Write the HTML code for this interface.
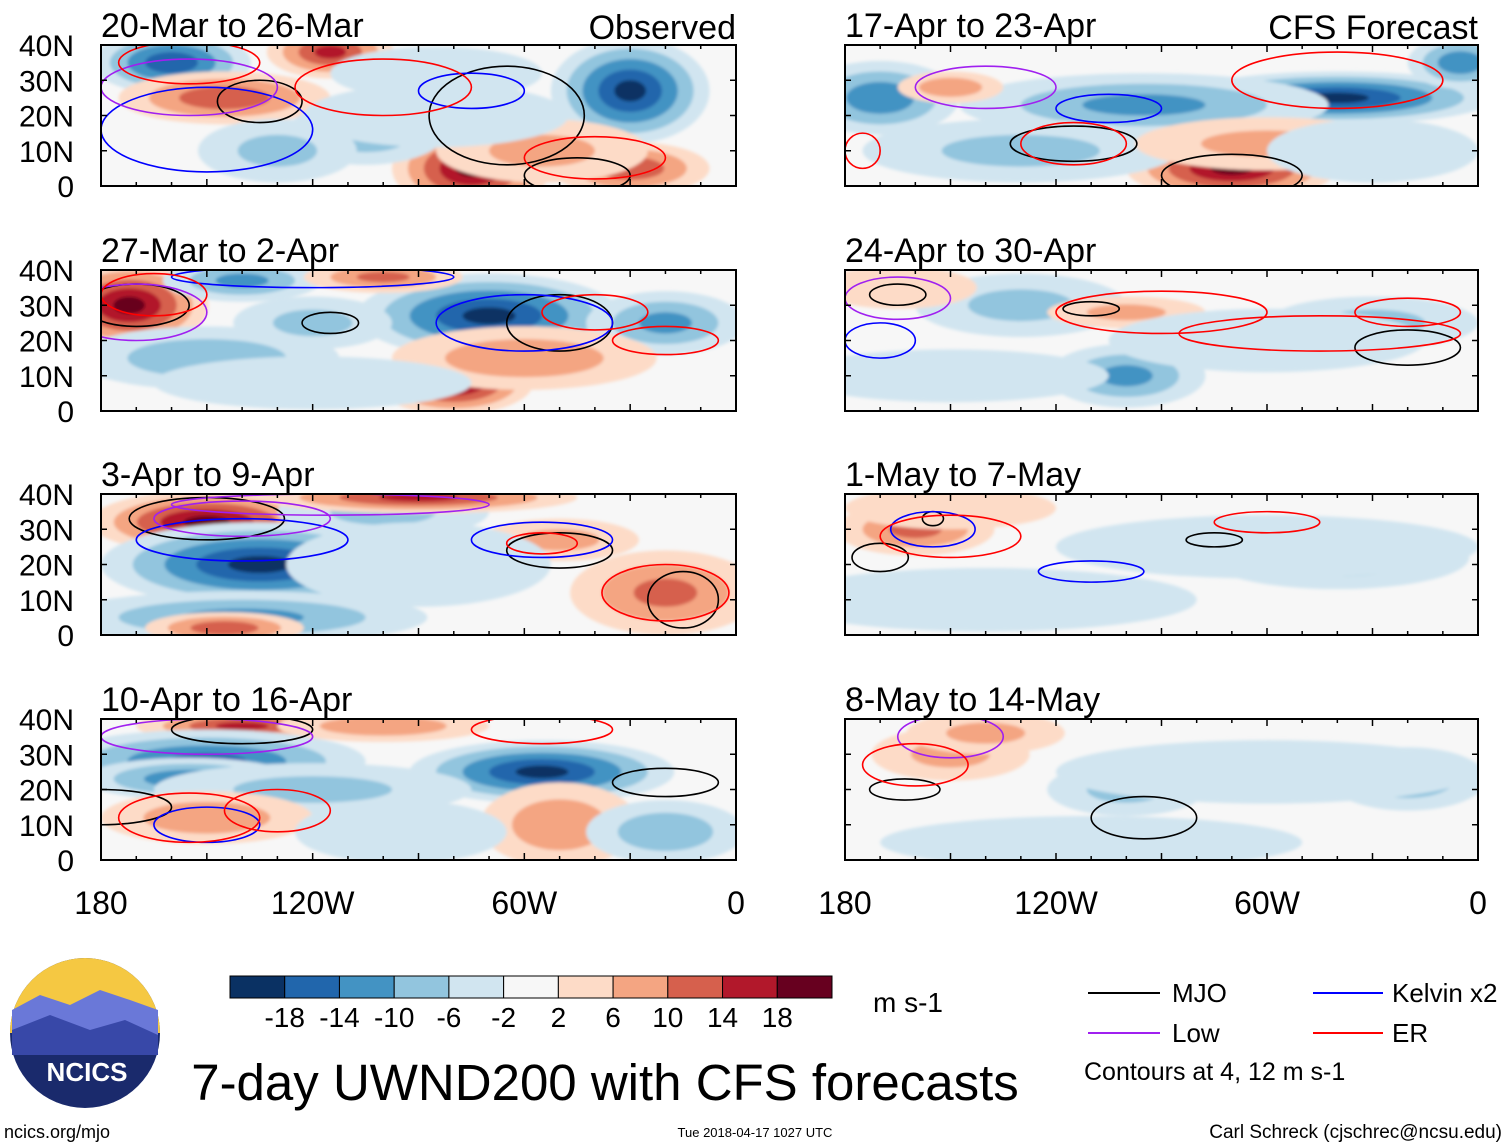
<!DOCTYPE html>
<html><head><meta charset="utf-8">
<style>
html,body{margin:0;padding:0;background:#fff;}
svg{display:block;font-family:"Liberation Sans",sans-serif;}
</style></head>
<body>
<svg id="fig" width="1510" height="1147" viewBox="0 0 1510 1147" xmlns="http://www.w3.org/2000/svg">
<defs>
<filter id="soft" x="-20%" y="-20%" width="140%" height="140%"><feGaussianBlur stdDeviation="1.5"/></filter>
<clipPath id="c0"><rect x="101" y="45" width="635" height="141"/></clipPath>
<clipPath id="c1"><rect x="101" y="270" width="635" height="141"/></clipPath>
<clipPath id="c2"><rect x="101" y="494" width="635" height="141"/></clipPath>
<clipPath id="c3"><rect x="101" y="719" width="635" height="141"/></clipPath>
<clipPath id="c4"><rect x="845" y="45" width="633" height="141"/></clipPath>
<clipPath id="c5"><rect x="845" y="270" width="633" height="141"/></clipPath>
<clipPath id="c6"><rect x="845" y="494" width="633" height="141"/></clipPath>
<clipPath id="c7"><rect x="845" y="719" width="633" height="141"/></clipPath>
</defs>
<g id="panels"></g>
<g id="bottom">
  <g>
    <circle cx="85" cy="1033" r="75" fill="#1a2a6c"/>
    <path d="M10,1033 A75,75 0 0 1 160,1033 Z" fill="#f5c842"/>
    <path d="M12,1010 L40,995 L70,1005 L100,990 L130,1000 L158,1010 L158,1045 L12,1045 Z" fill="#6a78d8"/>
    <path d="M12,1030 L50,1015 L90,1030 L125,1020 L158,1035 L158,1055 L12,1055 Z" fill="#3848a8"/>
    <text x="87" y="1081" font-size="26" font-weight="bold" fill="#fff" text-anchor="middle">NCICS</text>
  </g>
  <text x="4" y="1138" font-size="18">ncics.org/mjo</text>
  <g id="colorbar"></g>
  <text x="873" y="1012" font-size="28">m s-1</text>
  <text x="605" y="1100" font-size="51" text-anchor="middle">7-day UWND200 with CFS forecasts</text>
  <text x="755" y="1137" font-size="13" text-anchor="middle">Tue 2018-04-17 1027 UTC</text>
  <text x="1502" y="1138" font-size="19" text-anchor="end">Carl Schreck (cjschrec@ncsu.edu)</text>
  <g>
    <line x1="1088" y1="993" x2="1160" y2="993" stroke="#000" stroke-width="2"/>
    <text x="1172" y="1002" font-size="26">MJO</text>
    <line x1="1313" y1="993" x2="1383" y2="993" stroke="#0000ff" stroke-width="2"/>
    <text x="1392" y="1002" font-size="26">Kelvin x2</text>
    <line x1="1088" y1="1033" x2="1160" y2="1033" stroke="#a020f0" stroke-width="2"/>
    <text x="1172" y="1042" font-size="26">Low</text>
    <line x1="1313" y1="1033" x2="1383" y2="1033" stroke="#ff0000" stroke-width="2"/>
    <text x="1392" y="1042" font-size="26">ER</text>
    <text x="1084" y="1080" font-size="25">Contours at 4, 12 m s-1</text>
  </g>
</g>
</svg>
<script>
const NS="http://www.w3.org/2000/svg";
const colorLevels=[-18,-14,-10,-6,-2,2,6,10,14,18];
const colors=["#0a3163","#2166ac","#4393c3","#92c5de","#d1e5f0","#f7f7f7","#fddbc7","#f4a582","#d6604d","#b2182b","#67001f"];
const panelTitles=["20-Mar to 26-Mar","27-Mar to 2-Apr","3-Apr to 9-Apr","10-Apr to 16-Apr","17-Apr to 23-Apr","24-Apr to 30-Apr","1-May to 7-May","8-May to 14-May"];
const latTicks=[0,10,20,30,40];
const latLabels=["0","10N","20N","30N","40N"];
const lonTicks=[-180,-120,-60,0];
const lonLabels=["180","120W","60W","0"];
// blobs: [lon, lat, value, rxDeg, ryDeg]
const blobs0=[[-160,35,-16,15,6],[-115,38,14,12,5],[-145,25,12,20,5],[-30,27,-18,15,10],[-75,5,18,15,8],[-105,15,-8,15,6],[-130,10,-6,15,6],[-30,5,12,15,5],[-55,10,6,20,6],[-85,32,-4,20,5],[-85,20,-4,25,6]];
const blobs1=[[-172,30,18,15,8],[-70,27,-18,25,8],[-80,8,18,15,6],[-150,15,-8,25,6],[-140,37,-10,15,4],[-120,25,-6,15,5],[-20,25,-10,15,6],[-60,15,8,25,6],[-100,38,10,15,3],[-120,8,-4,30,5]];
const blobs2=[[-150,32,18,22,6],[-135,20,-18,30,8],[-140,5,-10,35,5],[-20,12,10,18,8],[-50,27,6,15,4],[-100,35,-6,20,5],[-90,39,14,30,3],[-145,2,12,15,3],[-90,20,-4,25,8]];
const blobs3=[[-140,38,14,20,3],[-150,28,-14,30,6],[-155,23,-12,20,4],[-55,25,-18,25,6],[-120,20,-6,30,5],[-50,10,8,15,8],[-20,8,-8,15,6],[-150,12,8,20,5],[-100,38,8,20,3],[-95,8,-4,20,6]];
const blobs4=[[-170,25,-12,15,7],[-40,25,-18,30,5],[-95,23,-10,35,6],[-70,5,18,20,6],[-5,35,-12,10,5],[-130,10,-6,30,6],[-150,28,8,10,3],[-60,12,6,25,5],[-30,10,-4,20,6]];
const blobs5=[[-100,10,-10,15,6],[-130,30,-6,20,6],[-100,28,6,15,3],[-30,25,-6,20,5],[-60,20,-3,30,6],[-165,35,3,15,4],[-150,10,-3,30,5]];
const blobs6=[[-160,30,10,15,5],[-40,22,-8,25,6],[-140,10,-4,40,6],[-60,25,-3,40,6],[-150,36,4,20,4]];
const blobs7=[[-150,30,6,15,5],[-100,20,-6,15,5],[-20,23,-8,15,6],[-60,25,-3,40,6],[-110,5,-3,40,5],[-140,36,6,15,4]];
const allBlobs=[blobs0,blobs1,blobs2,blobs3,blobs4,blobs5,blobs6,blobs7];
// contours: [type, lon, lat, rxDeg, ryDeg]
const cont0=[["k",-135,24,12,6],["k",-65,20,22,14],["k",-45,3,15,5],["b",-150,16,30,12],["b",-75,27,15,5],["p",-155,28,25,8],["r",-155,35,20,6],["r",-40,8,20,6],["r",-100,28,25,8]];
const cont1=[["k",-170,30,15,6],["k",-115,25,8,3],["k",-50,25,15,8],["b",-60,25,25,8],["b",-120,38,40,3],["p",-170,28,20,8],["r",-165,33,15,6],["r",-20,20,15,4],["r",-40,28,15,5]];
const cont2=[["k",-150,33,22,6],["k",-50,24,15,5],["k",-15,10,10,8],["b",-140,27,30,6],["b",-55,27,20,5],["p",-115,37,45,3],["p",-140,33,25,5],["r",-20,12,18,8],["r",-55,26,10,3]];
const cont3=[["k",-140,37,20,4],["k",-20,22,15,4],["k",-180,15,20,5],["b",-150,10,15,5],["p",-150,35,30,5],["r",-130,14,15,6],["r",-155,12,20,7],["r",-55,37,20,4]];
const cont4=[["k",-115,12,18,5],["k",-70,3,20,6],["b",-105,22,15,4],["p",-140,28,20,6],["r",-115,12,15,6],["r",-40,30,30,8],["r",-175,10,5,5]];
const cont5=[["k",-165,33,8,3],["k",-110,29,8,2],["k",-20,18,15,5],["b",-170,20,10,5],["p",-165,32,15,6],["r",-90,28,30,6],["r",-45,22,40,5],["r",-20,28,15,4]];
const cont6=[["k",-170,22,8,4],["k",-155,33,3,2],["k",-75,27,8,2],["b",-155,30,12,5],["b",-110,18,15,3],["r",-150,28,20,6],["r",-60,32,15,3]];
const cont7=[["k",-163,20,10,3],["k",-95,12,15,6],["p",-150,35,15,6],["r",-160,27,15,6]];
const allConts=[cont0,cont1,cont2,cont3,cont4,cont5,cont6,cont7];
const contColors={k:"#000",b:"#0000ff",p:"#a020f0",r:"#ff0000"};

const panelX=[101,101,101,101,845,845,845,845];
const panelTop=[45,270,494,719,45,270,494,719];
const PW=[635,635,635,635,633,633,633,633], PH=141;
const SPREAD=1.5;
const fig=document.getElementById('panels');
function mk(tag,attrs,parent){const e=document.createElementNS(NS,tag);for(const k in attrs)e.setAttribute(k,attrs[k]);(parent||fig).appendChild(e);return e;}
function colorFor(v){let i=0;while(i<colorLevels.length&&v>colorLevels[i])i++;return colors[i];}

for(let p=0;p<8;p++){
  const x0=panelX[p],y0=panelTop[p],w=PW[p];
  const xs=lon=>x0+(lon+180)/180*w;
  const ys=lat=>y0+PH-(lat/40)*PH;
  const g=mk('g',{});
  
  
  const inner=mk('g',{'clip-path':'url(#c'+p+')'},g);
  mk('rect',{x:x0,y:y0,width:w,height:PH,fill:'#f7f7f7'},inner);
  const fg=mk('g',{filter:'url(#soft)'},inner);
  allBlobs[p].forEach(b=>{
    const [lon,lat,val,rx,ry]=b;const a=Math.abs(val),s=Math.sign(val);
    for(let L=2;L<a+0.01;L+=4){
      const f=1-(L-2)/(a+2);
      const e=mk('ellipse',{cx:xs(lon),cy:ys(lat),rx:SPREAD*rx*f*w/180,ry:SPREAD*ry*f*PH/40,fill:colorFor(s*(L+0.5))},fg);
      
      
    }
  });
  allConts[p].forEach(c=>{
    const e=mk('ellipse',{cx:xs(c[1]),cy:ys(c[2]),rx:c[3]*w/180,ry:c[4]*PH/40,fill:'none',stroke:contColors[c[0]],'stroke-width':1.6},inner);
    
    
  });
  mk('rect',{x:x0,y:y0,width:w,height:PH,fill:'none',stroke:'#000','stroke-width':2},g);
  for(let lon=-180;lon<=0;lon+=10){
    const L=(lon%30===0)?7:4;
    mk('line',{x1:xs(lon),y1:y0,x2:xs(lon),y2:y0+L,stroke:'#000','stroke-width':1.5},g);
    mk('line',{x1:xs(lon),y1:y0+PH,x2:xs(lon),y2:y0+PH-L,stroke:'#000','stroke-width':1.5},g);
  }
  latTicks.forEach((lt,i)=>{
    mk('line',{x1:x0,y1:ys(lt),x2:x0+6,y2:ys(lt),stroke:'#000','stroke-width':1.5},g);
    mk('line',{x1:x0+w,y1:ys(lt),x2:x0+w-6,y2:ys(lt),stroke:'#000','stroke-width':1.5},g);
    if(p<4){const t=mk('text',{x:74,y:ys(lt)+11,'font-size':30,'text-anchor':'end'},g);t.textContent=latLabels[i];
      }
  });
  const t=mk('text',{x:x0,y:y0-8,'font-size':34},g);t.textContent=panelTitles[p];
  
  if(p===0||p===4){const r=mk('text',{x:x0+w,y:y0-6,'font-size':34,'text-anchor':'end'},g);r.textContent=p===0?'Observed':'CFS Forecast';
    }
  if(p===3||p===7){lonTicks.forEach((ln,i)=>{const a=mk('text',{x:xs(ln),y:914,'font-size':32,'text-anchor':'middle'},g);a.textContent=lonLabels[i];
    });}
}
// colorbar
const cb=document.getElementById('colorbar');
const cbx=230,cbw=602/11;
colors.forEach((c,i)=>{const r=mk('rect',{x:cbx+i*cbw,y:976,width:cbw,height:22,fill:c,stroke:'#000','stroke-width':1},cb);
  });
colorLevels.forEach((v,i)=>{const t=mk('text',{x:cbx+(i+1)*cbw,y:1027,'font-size':28,'text-anchor':'middle'},cb);t.textContent=v;
  });
</script>
</body></html>
